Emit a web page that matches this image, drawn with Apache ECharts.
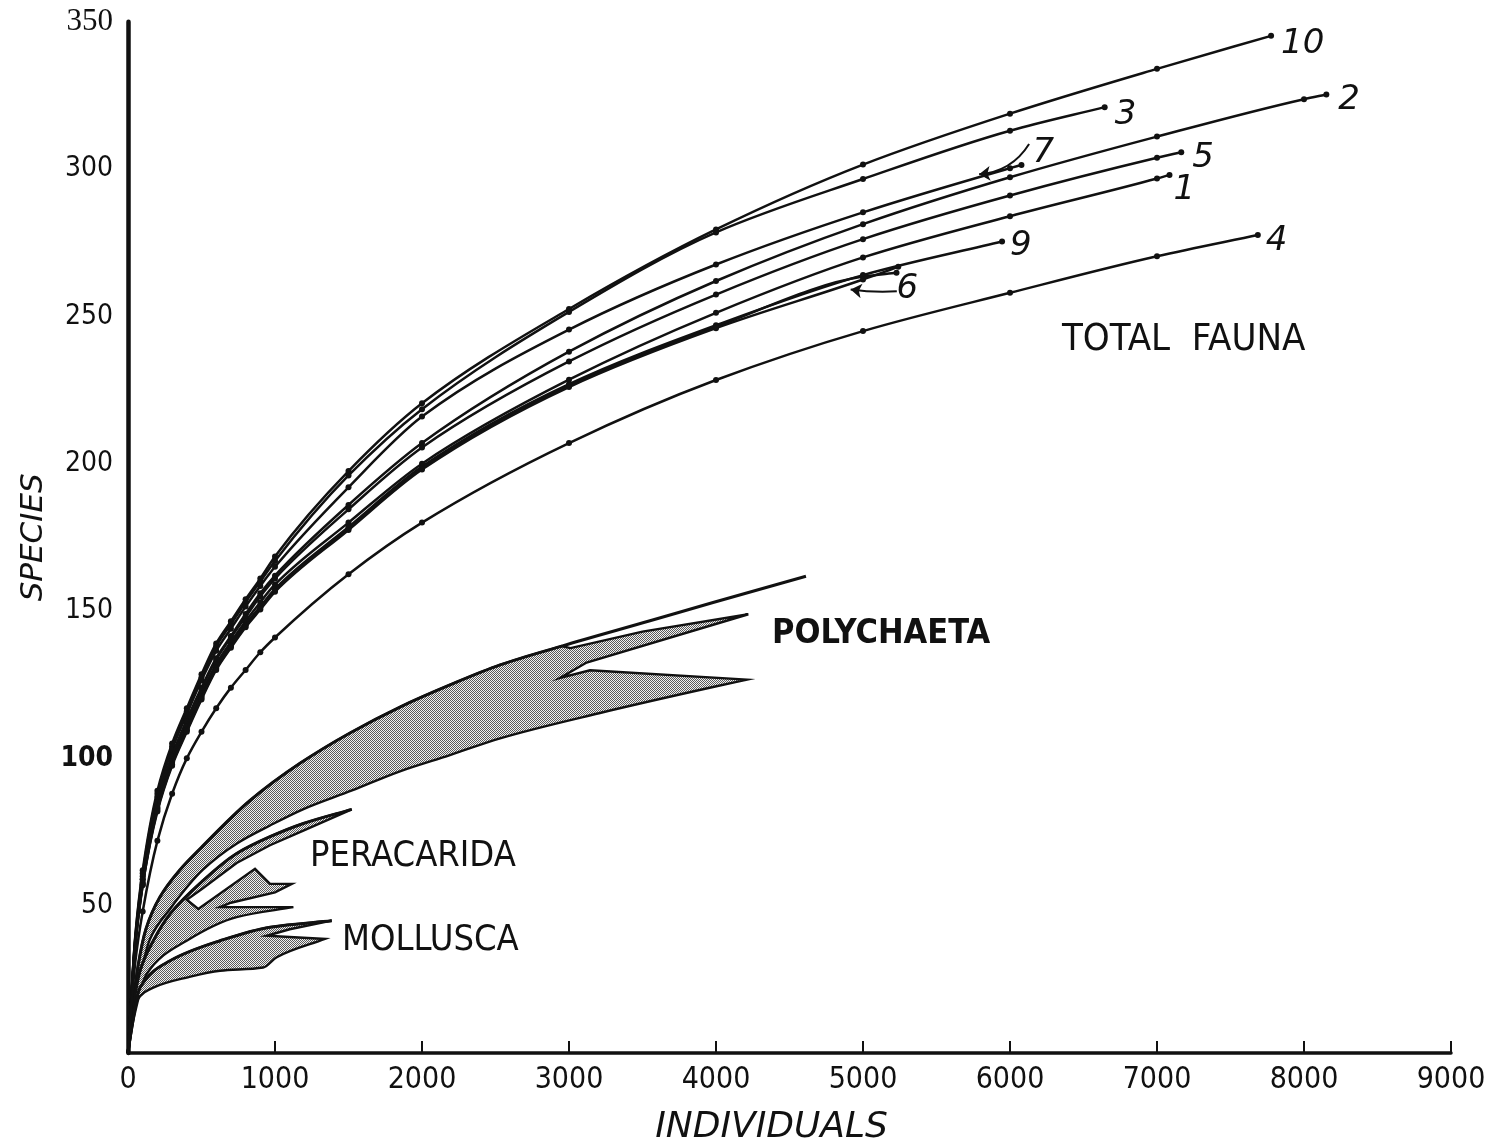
<!DOCTYPE html>
<html><head><meta charset="utf-8">
<script src="https://cdn.jsdelivr.net/npm/echarts@6/dist/echarts.min.js"></script>
<style>html,body{margin:0;padding:0;background:#fff;overflow:hidden}#c{width:1494px;height:1143px}</style>
</head><body><div id="c"></div>
<script>
// ---------- DATA ----------
const sampleSizes = [0, 50, 100, 200, 300, 400, 500, 600, 700, 800, 900, 1000, 1500, 2000, 3000, 4000, 5000, 6000, 7000, 8000];
const xTicks = [0, 1000, 2000, 3000, 4000, 5000, 6000, 7000, 8000, 9000];
const yTicks = [0, 50, 100, 150, 200, 250, 300, 350];

const st10 = [0, 40, 62, 89, 105, 117, 128.5, 139, 146.5, 154, 161, 168.5, 197.5, 220.5, 252.5, 279.5, 301.5, 318.8, 334];
const st3  = [0, 39.5, 61, 88, 104, 116, 127.5, 138, 145.5, 153, 160, 167, 196, 218.5, 251.5, 278.5, 296.6, 313];
const st7  = [0, 39, 60, 87, 103, 115, 126.5, 136.5, 144, 151.5, 158.5, 165, 192, 216, 245.5, 267.6, 285.3, 300.3];
const st2  = [0, 38.5, 59, 85, 101, 113, 124, 134, 141.5, 149, 156, 162, 186, 207, 238, 262, 281.3, 297.2, 311, 323.7];
const st5  = [0, 38, 59, 84.5, 100.5, 112.5, 123.5, 133.5, 141, 148, 155, 161, 184.5, 205.5, 234.7, 257.4, 276.2, 291, 303.8];
const st1  = [0, 37.5, 58, 83.5, 99, 111, 122, 132, 139.5, 146.5, 153, 159, 180, 200, 228.5, 251.2, 270, 284, 296.8];
const st9  = [0, 37, 57.5, 83, 98.5, 110, 121, 131, 138.5, 145.5, 151.5, 157.5, 178.5, 199, 227, 247, 264];
const st6  = [0, 37, 57, 82.5, 98, 109.5, 120.5, 130.5, 138, 145, 151, 157, 178, 198.5, 226.5, 246.5, 263.5];
const st8  = [0, 37, 57, 82, 97.5, 109, 120, 130, 137.5, 144.5, 150.5, 156.5, 177.5, 198, 226, 246, 262.5];
const st4  = [0, 31, 48, 72, 88, 100, 109, 117, 124, 130, 136, 141, 162.5, 180, 207, 228.4, 245, 258, 270.4];

const stationNames = ['10', '3', '7', '2', '5', '1', '9', '6', '8', '4'];
const stationEnds = [[7776, 345.2], [6644, 321], [6078, 301.4], [8152, 325.3], [7165, 305.7], [7085, 298], [5946, 275.4], [5228, 264.8], [5240, 266.8], [7686, 277.6]];

// group outlines (individuals, species)
const polyUpper = [[0,0],[14,6.3],[34,16.5],[68,29.5],[122,42.1],[218,53],[354,62.2],[490,69.3],[830,85.7],[1170,98.3],[1510,108.6],[1850,117.4],[2190,124.9],[2531,131.7],[2950,138.1]];
const polyTop   = [[2950,138.1],[3551,146.7],[3980,152.9],[4612,161.8]];
const polyJag   = [[3010,137.4],[3500,143],[4220,148.9],[3120,132.5],[2939,127.3],[3143,129.9]];
const polyLower = [[0,0],[20,6.3],[54,16.5],[95,28.5],[150,38.7],[286,48.9],[510,62.2],[741,71.1],[966,77.2],[1190,82.7],[1524,89.1],[1850,95.6],[2190,101.1],[2531,106.8],[3211,115.4],[3980,124.2],[4209,126.7]];

const peraUpper = [[0,0],[30,14],[82,27.9],[172,38.1],[286,47.2],[512,58.6],[739,67.7],[966,73.4],[1193,77.9],[1522,82.7]];
const peraJag   = [[1193,75.5],[966,70.5],[739,64.5],[512,56],[400,52],[478,48.9],[864,62.5],[966,57.4],[1114,57.4],[1000,54.5],[700,51],[626,49.5],[1125,49.5]];
const peraLower = [[0,0],[40,12],[127,26.8],[399,38.1],[739,46.1],[1125,49.5]];

const mollUpper = [[0,0],[25,9],[82,22.2],[286,31.3],[626,38.1],[966,42.7],[1386,44.9]];
const mollJag   = [[1100,42],[944,39.8],[1340,38.7]];
const mollLower = [[0,0],[15,6],[59,17.7],[172,22.2],[399,25.6],[626,27.9],[920,29],[1012,32.5],[1340,38.7]];

// annotation arrows [from, to]
const arrow7 = [[6130, 308.5], [5790, 298.2]];
const arrow6 = [[5230, 258.5], [4916, 259.1]];

// ---------- CHART ----------
const chart = echarts.init(document.getElementById('c'), null, {renderer: 'canvas'});
const INK = '#111';
const stationSeries = [st10, st3, st7, st2, st5, st1, st9, st6, st8, st4];
const labelOffsets = {'10':[10,8.5], '3':[10,8], '7':[11,-12], '2':[12,6], '5':[11,6], '1':[4,15], '9':[8,5], '6':[0,16], '4':[8,6]};

function pattern() {
  const c = document.createElement('canvas'); c.width = 2; c.height = 2;
  const g = c.getContext('2d');
  g.fillStyle = '#f2f2f2'; g.fillRect(0,0,2,2);
  g.fillStyle = '#5a5a5a'; g.fillRect(0,0,1,1); g.fillRect(1,1,1,1);
  return {image: c, repeat: 'repeat'};
}
const pat = pattern();

// monotone cubic (Fritsch-Butland) through pixel points with increasing x
function monoSegs(p) {
  const n = p.length, d = [], h = [], m = [];
  for (let i = 0; i < n - 1; i++) { h[i] = p[i+1][0] - p[i][0]; d[i] = (p[i+1][1] - p[i][1]) / (h[i] || 1e-6); }
  m[0] = d[0]; m[n-1] = d[n-2];
  for (let i = 1; i < n - 1; i++) {
    if (d[i-1] * d[i] <= 0) m[i] = 0;
    else { const w1 = 2*h[i] + h[i-1], w2 = h[i] + 2*h[i-1]; m[i] = (w1 + w2) / (w1 / d[i-1] + w2 / d[i]); }
  }
  const segs = [];
  for (let i = 0; i < n - 1; i++) {
    const a = p[i], b = p[i+1], t = h[i] / 3;
    segs.push([[a[0] + t, a[1] + m[i]*t], [b[0] - t, b[1] - m[i+1]*t], b]);
  }
  return segs;
}
function fwd(p) { return monoSegs(p).map(s => 'C' + s[0].join(' ') + ' ' + s[1].join(' ') + ' ' + s[2].join(' ')).join(''); }
function back(p) {
  const s = monoSegs(p), out = [];
  for (let i = s.length - 1; i >= 0; i--) {
    const start = i === 0 ? p[0] : s[i-1][2];
    out.push('C' + s[i][1].join(' ') + ' ' + s[i][0].join(' ') + ' ' + start.join(' '));
  }
  return out.join('');
}

function bandSeries(upper, jag, lower, top) {
  return {
    type: 'custom', silent: true, z: 1, data: [0],
    renderItem: (params, api) => {
      const U = upper.map(q => api.coord(q)), J = jag.map(q => api.coord(q)), L = lower.map(q => api.coord(q));
      const d = 'M' + U[0].join(' ') + fwd(U) + J.map(q => 'L' + q.join(' ')).join('') + 'L' + L[L.length-1].join(' ') + back(L) + 'Z';
      const kids = [{type: 'path', shape: {pathData: d}, style: {fill: pat, stroke: INK, lineWidth: 2.4, lineJoin: 'miter'}}];
      const T = top.map(q => api.coord(q));
      kids.push({type: 'path', shape: {pathData: 'M' + T[0].join(' ') + fwd(T)}, style: {fill: null, stroke: INK, lineWidth: 3}});
      return {type: 'group', children: kids};
    }
  };
}

const series = [];
series.push(bandSeries(polyUpper, polyJag, polyLower, polyUpper.concat(polyTop.slice(1))));
series.push(bandSeries(peraUpper, peraJag, peraLower, peraUpper));
series.push(bandSeries(mollUpper, mollJag, mollLower, mollUpper));

stationSeries.forEach((vals, k) => {
  const name = stationNames[k];
  const pts = vals.map((v, i) => [sampleSizes[i], v]).concat([stationEnds[k]]);
  series.push({
    type: 'custom', name: name, silent: true, z: 5, data: [0],
    renderItem: (params, api) => {
      const P = pts.map(q => api.coord(q));
      const kids = [{type: 'path', shape: {pathData: 'M' + P[0].join(' ') + fwd(P)}, style: {fill: null, stroke: INK, lineWidth: 2.5}}];
      P.forEach((q, i) => { if (i >= 2) kids.push({type: 'circle', shape: {cx: q[0], cy: q[1], r: 3}, style: {fill: INK}}); });
      if (labelOffsets[name]) {
        const e = P[P.length - 1], o = labelOffsets[name];
        kids.push({type: 'text', x: e[0] + o[0], y: e[1] + o[1], style: {text: name, fill: INK, font: 'italic 34px "DejaVu Sans"', align: 'left', verticalAlign: 'middle'}});
      }
      return {type: 'group', children: kids};
    }
  });
});

series.push({
  type: 'lines', coordinateSystem: 'cartesian2d', z: 6, silent: true,
  symbol: ['none', 'arrow'], symbolSize: 11,
  lineStyle: {color: INK, width: 2, curveness: 0.25, opacity: 1},
  data: [{coords: arrow7}, {coords: arrow6, lineStyle: {curveness: 0.05}}]
});

const condensed = "'DejaVu Sans Condensed','Liberation Sans Narrow','Liberation Sans',sans-serif";

chart.setOption({
  animation: false,
  backgroundColor: '#fff',
  grid: {left: 128, right: 43, top: 21.7, bottom: 90, containLabel: false, outerBoundsMode: 'none'},
  xAxis: {
    type: 'value', min: 0, max: 9000, interval: 1000, offset: 3,
    axisLine: {show: true, lineStyle: {color: INK, width: 3.5}},
    axisTick: {show: true, inside: true, length: 12, lineStyle: {color: INK, width: 2}},
    splitLine: {show: false},
    axisLabel: {color: INK, fontSize: 30, fontFamily: condensed, margin: 9, formatter: v => String(v)},
    name: 'INDIVIDUALS', nameLocation: 'middle', nameGap: 54,
    nameTextStyle: {color: INK, fontSize: 36, fontStyle: 'italic', fontFamily: 'DejaVu Sans', padding: [0, 36, 0, 0]}
  },
  yAxis: {
    type: 'value', min: 0, max: 350, interval: 50,
    axisLine: {show: true, lineStyle: {color: INK, width: 4.5}},
    axisTick: {show: false},
    splitLine: {show: false},
    axisLabel: {
      color: INK, fontSize: 28, fontFamily: condensed, margin: 15,
      formatter: v => v === 0 ? '' : (v === 350 ? '{s|350}' : v === 100 ? '{b|100}' : String(v)),
      rich: {s: {fontFamily: 'Liberation Serif', fontSize: 31, color: INK}, b: {fontWeight: 'bold', fontSize: 28, fontFamily: condensed, color: INK}}
    },
    name: 'SPECIES', nameLocation: 'middle', nameGap: 74, nameRotate: 90,
    nameTextStyle: {color: INK, fontSize: 31, fontStyle: 'italic', fontFamily: 'DejaVu Sans'}
  },
  graphic: [
    {type: 'text', left: 1062, top: 321, style: {text: 'TOTAL  FAUNA', fill: INK, font: "38px " + condensed}},
    {type: 'text', left: 772, top: 617, style: {text: 'POLYCHAETA', fill: INK, font: "bold 34px " + condensed}},
    {type: 'text', left: 310, top: 839, style: {text: 'PERACARIDA', fill: INK, font: "36px " + condensed}},
    {type: 'text', left: 342, top: 923, style: {text: 'MOLLUSCA', fill: INK, font: "36px " + condensed}}
  ],
  series: series
});
</script></body></html>
